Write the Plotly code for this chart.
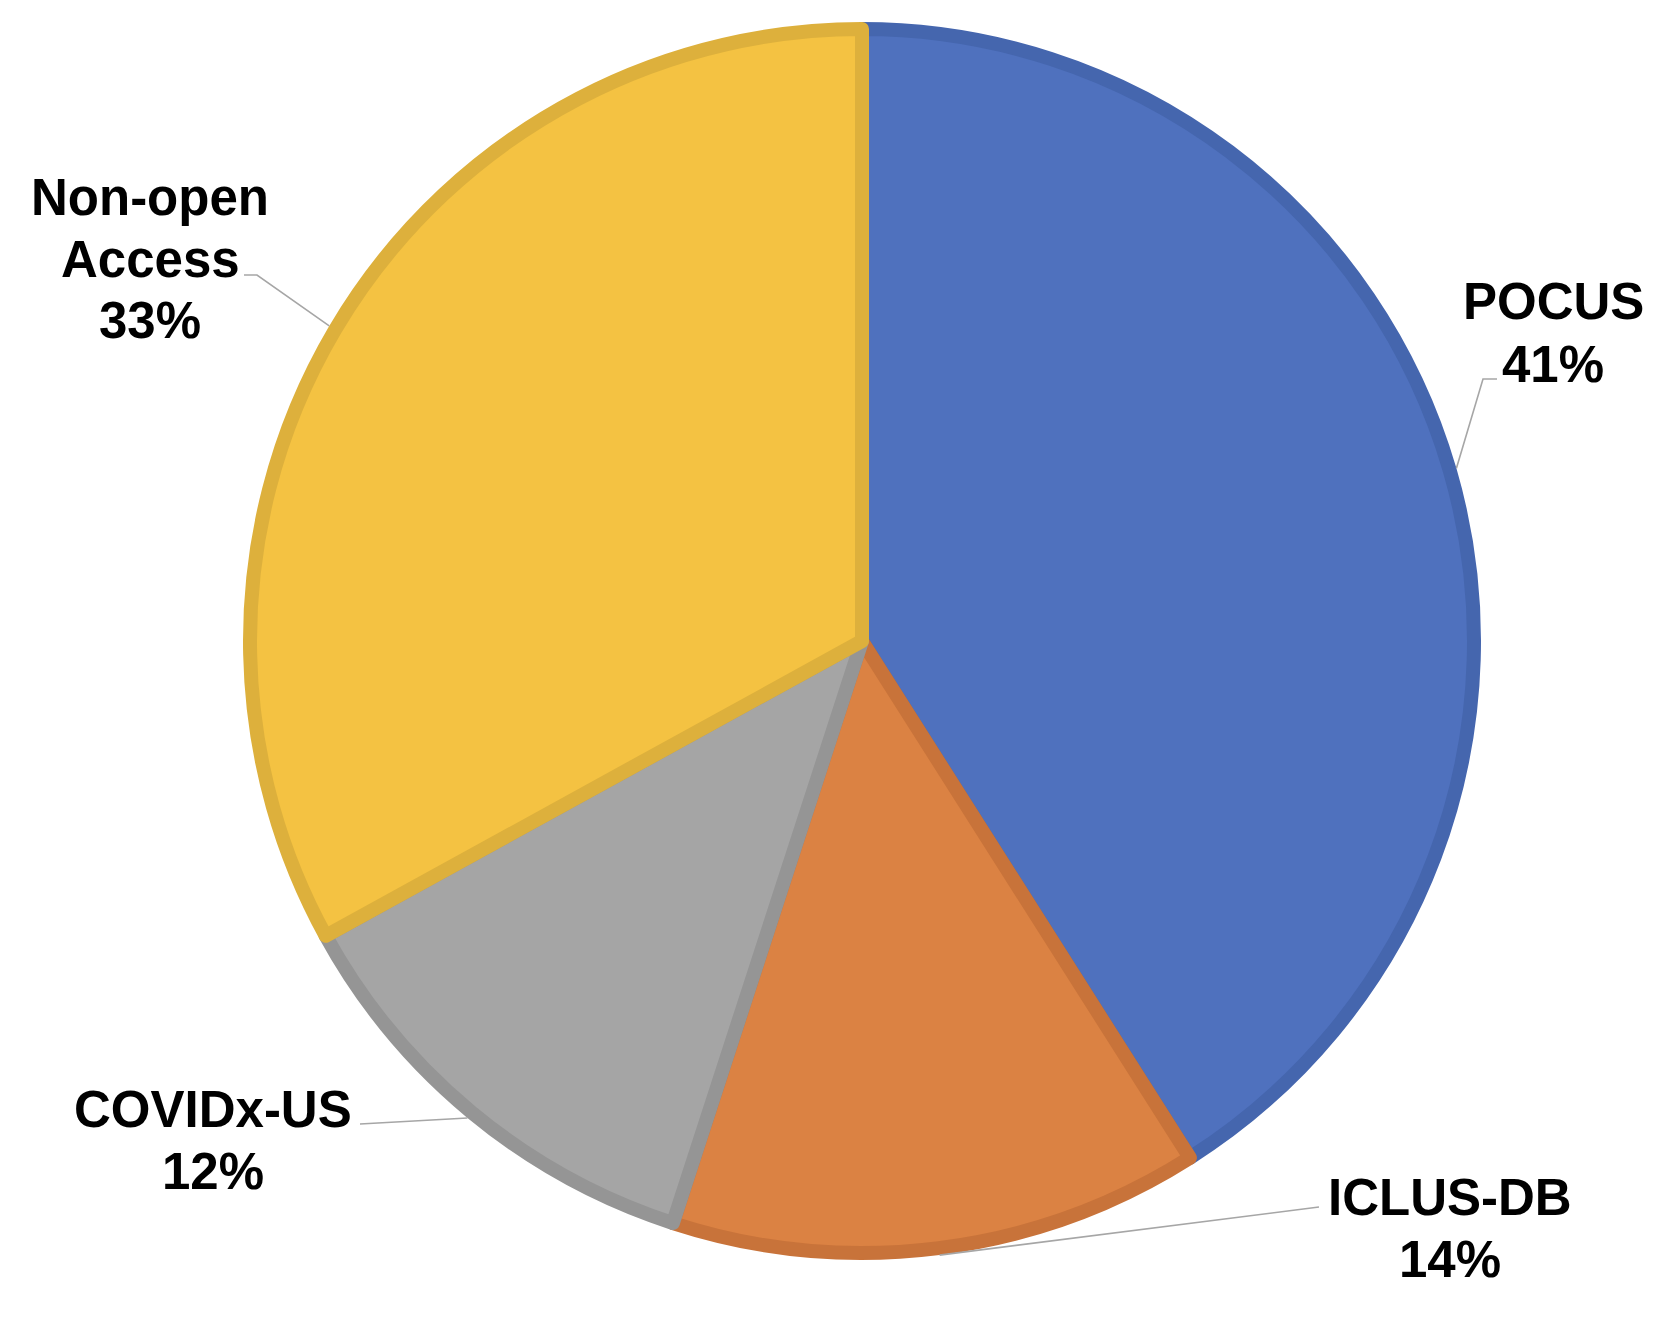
import math
import plotly.graph_objects as go

labels = ["POCUS", "ICLUS-DB", "COVIDx-US", "Non-open Access"]
label_lines = [["POCUS"], ["ICLUS-DB"], ["COVIDx-US"], ["Non-open", "Access"]]
values = [41, 14, 12, 33]
fill_colors = ["#4F71BE", "#DB8243", "#A5A5A5", "#F4C242"]
edge_colors = ["#4566AE", "#C8733A", "#959595", "#DDB03C"]

W, H = 1672, 1320
OFF = 8  # page body margin
cx, cy, R = 862, 641, 612  # pie centre / radius in page pixels
LW = 14
LINE_H = 62

# label layout (pixel positions of first text line centre and leader elbows)
label_pos = [(1553, 302), (1450, 1197), (213, 1109), (150, 197)]
elbows = [[(1497, 379), (1483, 379)],
          [(1319, 1207)],
          [(360, 1124)],
          [(244, 275), (257, 275)]]


def px(x):
    return (x - OFF) / W


def py(y):
    return 1 - (y - OFF) / H


fig = go.Figure()
fig.add_trace(go.Pie(
    labels=labels, values=values, sort=False, direction="clockwise", rotation=0,
    marker=dict(colors=fill_colors, line=dict(color=edge_colors, width=LW)),
    textinfo="none", hoverinfo="label+percent", showlegend=False,
    domain=dict(x=[px(cx - R), px(cx + R)], y=[py(cy + R), py(cy - R)]),
))

total = sum(values)
cum = 0
for i, v in enumerate(values):
    mid = (cum + v / 2) / total * 2 * math.pi
    cum += v
    ex = cx + (R + LW / 2) * math.sin(mid)
    ey = cy - (R + LW / 2) * math.cos(mid)
    pts = elbows[i] + [(ex, ey)]
    path = "M " + " L ".join(f"{px(x)},{py(y)}" for x, y in pts)
    fig.add_shape(type="path", path=path, xref="paper", yref="paper",
                  line=dict(color="#A6A6A6", width=1.6))
    pct = round(100 * v / total)
    lx, ly = label_pos[i]
    for j, t in enumerate(label_lines[i] + [f"{pct}%"]):
        fig.add_annotation(x=px(lx), y=py(ly + j * LINE_H), xref="paper", yref="paper",
                           text=f"<b>{t}</b>", showarrow=False,
                           xanchor="center", yanchor="middle", align="center",
                           font=dict(family="Liberation Sans, Arial, sans-serif", size=51, color="#000000"))

fig.update_layout(width=W, height=H, margin=dict(l=0, r=0, t=0, b=0),
                  paper_bgcolor="white", plot_bgcolor="white")
fig.write_html("out.html")
